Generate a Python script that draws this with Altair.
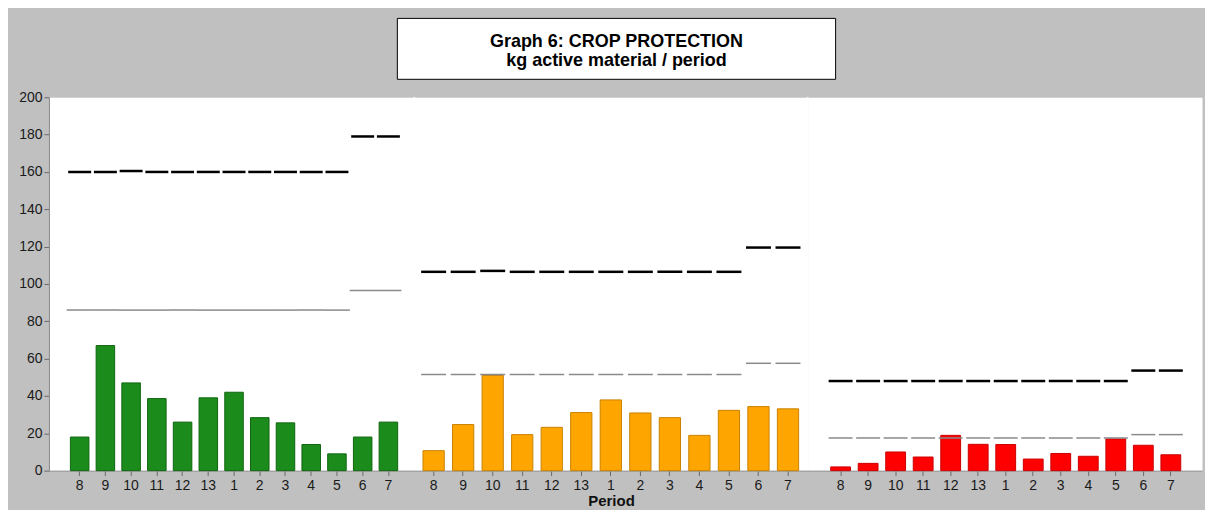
import altair as alt
import pandas as pd

periods = ["8", "9", "10", "11", "12", "13", "1", "2", "3", "4", "5", "6", "7"]

green_values = [18, 67, 47, 38.6, 26, 39, 42, 28.4, 25.6, 14, 9, 18, 26]
green_limits = [160, 160, 160.5, 160, 160, 160, 160, 160, 160, 160, 160, 179, 179]
green_refs = [86, 86, 86, 86, 86, 86, 86, 86, 86, 86, 86, 96.5, 96.5]

orange_values = [10.7, 24.7, 51, 19.3, 23.2, 31.1, 37.9, 30.9, 28.4, 18.9, 32.3, 34.3, 33.1]
orange_limits = [106.5, 106.5, 107, 106.5, 106.5, 106.5, 106.5, 106.5, 106.5, 106.5, 106.5, 119.5, 119.5]
orange_refs = [51.5, 51.5, 51.5, 51.5, 51.5, 51.5, 51.5, 51.5, 51.5, 51.5, 51.5, 57.5, 57.5]

red_values = [2, 3.9, 10, 7.3, 18.9, 14.1, 14, 6.2, 9.2, 7.7, 17, 13.6, 8.5]
red_limits = [48, 48, 48, 48, 48, 48, 48, 48, 48, 48, 48, 53.6, 53.6]
red_refs = [17.5, 17.5, 17.5, 17.5, 17.5, 17.5, 17.5, 17.5, 17.5, 17.5, 17.5, 19.3, 19.3]

title_lines = ["Graph 6: CROP PROTECTION", "kg active material / period"]
x_title = "Period"
y_ticks = [0, 20, 40, 60, 80, 100, 120, 140, 160, 180, 200]

FONT = "Liberation Sans"
PLOT_H = 374


def panel(values, limits, refs, fill, stroke, width, pad_outer, align,
          dash, ref_size, show_y, title=None, extras=None, seam=True):
    df = pd.DataFrame({"period": periods, "value": values,
                       "limit": limits, "ref": refs})
    x_axis = alt.Axis(labelAngle=0, labelFontSize=14, labelFont=FONT,
                      labelColor="#1a1a1a", tickSize=5, tickColor="#6a6a6a",
                      domainColor="#8a8a8a", labelPadding=3, title=title,
                      titleFontSize=15, titleFont=FONT, titleFontWeight="bold",
                      titleColor="#111111", titlePadding=1)
    x = alt.X("period:N", sort=periods,
              scale=alt.Scale(paddingInner=0.28, paddingOuter=pad_outer, align=align),
              axis=x_axis)
    ys = alt.Scale(domain=[0, 200], nice=False)
    if show_y:
        y_axis = alt.Axis(values=y_ticks, labelFontSize=14, labelFont=FONT,
                          labelColor="#1a1a1a", tickSize=5, tickColor="#6a6a6a",
                          domainColor="#8a8a8a", labelPadding=2, grid=False,
                          labelOverlap=False, title=None)
    else:
        y_axis = None
    bars = alt.Chart(df).mark_bar(fill=fill, stroke=stroke, strokeWidth=1).encode(
        x=x, y=alt.Y("value:Q", scale=ys, axis=y_axis))
    refl = alt.Chart(df).mark_tick(color="#8a8a8a", opacity=1, thickness=1.5,
                                   size=ref_size).encode(
        x=x, y=alt.Y("ref:Q", scale=ys, axis=y_axis))
    lims = alt.Chart(df).mark_tick(color="black", opacity=1, thickness=2.5,
                                   size=dash).encode(
        x=x, y=alt.Y("limit:Q", scale=ys, axis=y_axis))
    layers = [bars, refl, lims]
    if seam:
        strip = alt.Chart(pd.DataFrame({"s": [0]})).mark_rect(fill="white").encode(
            x=alt.value(width - 1), x2=alt.value(width + 1),
            y=alt.value(0), y2=alt.value(PLOT_H - 1))
        layers.append(strip)
    if extras:
        layers += extras
    return alt.layer(*layers).properties(width=width, height=PLOT_H)


box_df = pd.DataFrame({"line": [title_lines[0]]})
box = alt.Chart(box_df).mark_rect(fill="white", stroke="black", strokeWidth=1).encode(
    x=alt.value(-17), x2=alt.value(422), y=alt.value(-79), y2=alt.value(-18))
t1 = alt.Chart(pd.DataFrame({"line": [title_lines[0]]})).mark_text(
    font=FONT, fontSize=18, fontWeight="bold", baseline="alphabetic",
    align="center", color="black").encode(
    x=alt.value(202.5), y=alt.value(-50), text="line:N")
t2 = alt.Chart(pd.DataFrame({"line": [title_lines[1]]})).mark_text(
    font=FONT, fontSize=18, fontWeight="bold", baseline="alphabetic",
    align="center", color="black").encode(
    x=alt.value(202.5), y=alt.value(-31.5), text="line:N")

p1 = panel(green_values, green_limits, green_refs, "#1b8c1b", "#0f650f",
           366, 0.741, 0.563, 23, 26, True)
p2 = panel(orange_values, orange_limits, orange_refs, "#ffa500", "#c98200",
           394, 0.30, 0.49, 25, 25, False, title=x_title, extras=[box, t1, t2])
p3 = panel(red_values, red_limits, red_refs, "#ff0000", "#cc0000",
           395, 0.805, 0.52, 24, 24, False, seam=False)

chart = alt.hconcat(p1, p2, p3, spacing=0, bounds="flush").configure_view(
    fill="white", stroke="transparent").properties(
    background="#c0c0c0",
    padding={"left": 10, "top": 9, "right": 2, "bottom": 0})

chart.save("out.html", embed_options={"renderer": "svg", "actions": False})
